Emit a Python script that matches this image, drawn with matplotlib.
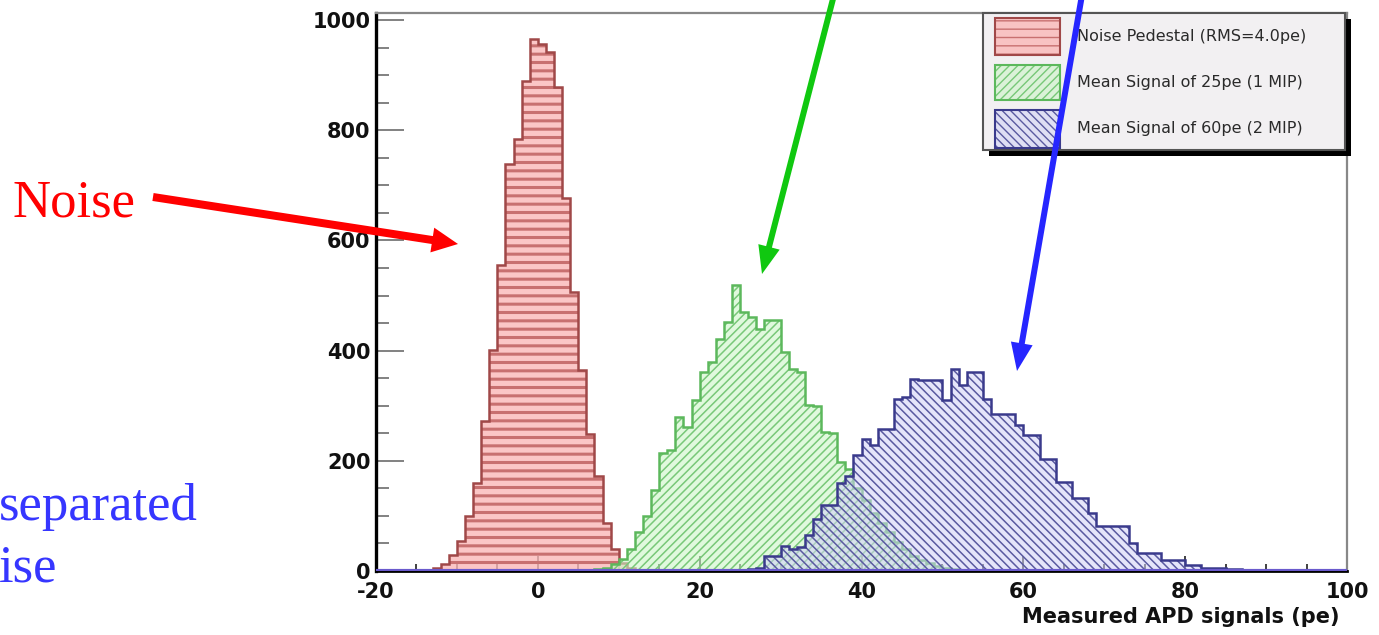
import matplotlib
matplotlib.use('Agg')
import matplotlib.pyplot as plt
import numpy as np
from matplotlib.patches import Rectangle, FancyArrow
from matplotlib.transforms import IdentityTransform
from matplotlib.ticker import MultipleLocator

plt.rcParams['axes.unicode_minus'] = False

# ---- data (1 pe bins from -20 to 100) ----
edges = np.arange(-20, 101)

noise_first = -13
noise_counts = [5, 12, 29, 55, 100, 160, 273, 401, 556, 739, 785, 890,
                965, 957, 942, 878, 677, 507, 365, 248, 173, 88, 40, 15, 5]

mip1_first = 7
mip1_counts = [3, 6, 12, 22, 40, 70, 100, 147, 215, 220, 280, 262, 310, 361,
               380, 422, 452, 520, 471, 462, 440, 455, 455, 398, 367, 361,
               301, 300, 252, 250, 197, 185, 150, 128, 105, 88, 70, 52, 40,
               28, 20, 14, 9, 5, 3]

mip2_first = 26
mip2_counts = [3, 5, 27, 27, 46, 40, 44, 66, 94, 120, 120, 160, 173, 210,
               240, 228, 257, 257, 312, 316, 349, 347, 347, 347, 310, 367,
               337, 361, 361, 312, 285, 285, 285, 265, 246, 246, 203, 203,
               161, 161, 133, 133, 105, 82, 82, 82, 82, 51, 33, 33, 33, 20,
               20, 20, 11, 11, 5, 5, 5, 4, 3, 2, 2, 1, 1]

labels = ['Noise Pedestal (RMS=4.0pe)', 'Mean Signal of 25pe (1 MIP)',
          'Mean Signal of 60pe (2 MIP)']

xticks = [-20, 0, 20, 40, 60, 80, 100]
yticks = [0, 200, 400, 600, 800, 1000]


def full(first, counts):
    arr = np.zeros(len(edges) - 1)
    i = first - edges[0]
    arr[i:i + len(counts)] = counts
    return arr


W, H = 1379, 635
fig = plt.figure(figsize=(W / 100, H / 100), dpi=100)
fig.patch.set_facecolor('white')
ax = fig.add_axes([376 / W, 1 - 571 / H, (1347 - 376) / W, (571 - 13) / H])

# histogram styles: fill, hatch colour, hatch, outline
styles = [
    ((0.98, 0.72, 0.72, 0.8), '#c87070', '--', '#a04848'),
    ((0.80, 0.96, 0.78, 0.6), '#78c878', '////', '#5cb85c'),
    ((0.82, 0.82, 0.97, 0.55), '#5a5aa0', '\\\\\\\\', '#3a3a8c'),
]
hists = [full(noise_first, noise_counts), full(mip1_first, mip1_counts),
         full(mip2_first, mip2_counts)]

for k, (vals, (fc, hc, hatch, oc)) in enumerate(zip(hists, styles)):
    p = ax.stairs(vals, edges, fill=True, facecolor=fc, edgecolor=hc,
                  hatch=hatch, linewidth=0, zorder=2 + k)
    if hasattr(p, 'set_hatch_linewidth'):
        p.set_hatch_linewidth(2.2 if k == 0 else 1.1)
    ax.stairs(vals, edges, color=oc, linewidth=1.8, zorder=2.5 + k)

# thick purple line along zero, as the outlines pile up there
ax.axhline(0, color='#6a5acd', linewidth=3, zorder=6)

ax.set_xlim(-20, 100)
ax.set_ylim(0, 1013)
ax.set_xticks(xticks)
ax.set_yticks(yticks)
ax.xaxis.set_minor_locator(MultipleLocator(5))
ax.yaxis.set_minor_locator(MultipleLocator(50))
ax.tick_params(which='both', direction='in', top=False, right=False)
ax.tick_params(axis='y', which='major', length=20, width=1.3, color='#777777', pad=4)
ax.tick_params(axis='y', which='minor', length=9, width=1.3, color='#777777')
ax.tick_params(axis='x', which='major', length=11, width=1.3, color='#333333', pad=8)
ax.tick_params(axis='x', which='minor', length=5, width=1.3, color='#333333')
for lab in ax.get_xticklabels() + ax.get_yticklabels():
    lab.set_fontsize(15)
    lab.set_fontweight('bold')
    lab.set_color('#111111')
ax.spines['left'].set_linewidth(2.4)
ax.spines['left'].set_color('black')
ax.spines['bottom'].set_linewidth(2)
ax.spines['bottom'].set_color('black')
for s in ['top', 'right']:
    ax.spines[s].set_linewidth(1.6)
    ax.spines[s].set_color('#888888')

fig.text(1340 / W, 1 - 617 / H, 'Measured APD signals (pe)', ha='right',
         va='center', fontsize=15, fontweight='bold', color='#111111')

# ---- legend box drawn in pixel coordinates ----
T = IdentityTransform()


def rect(x0, y0, x1, y1, **kw):
    return Rectangle((x0, H - y1), x1 - x0, y1 - y0, transform=T, **kw)


fig.add_artist(rect(989, 19, 1351, 156, facecolor='black', edgecolor='none', zorder=5))
fig.add_artist(rect(983, 13, 1345, 150, facecolor='#f2f0f2', edgecolor='#555555',
                    linewidth=1.5, zorder=6))
rows = [(18, 55, 37), (65, 100, 82), (110, 148, 128)]
for (y0, y1, yc), (fc, hc, hatch, oc), lab in zip(rows, styles, labels):
    fig.add_artist(rect(995, y0, 1060, y1, facecolor=fc, edgecolor=hc, hatch=hatch,
                        linewidth=0, zorder=7))
    fig.add_artist(rect(995, y0, 1060, y1, facecolor='none', edgecolor=oc,
                        linewidth=1.5, zorder=7.5))
    fig.text(1077 / W, 1 - yc / H, lab, ha='left', va='center', fontsize=11.5,
             color='#2a2a2a', zorder=8)

# ---- slide annotations ----
fig.text(13 / W, 1 - 217 / H, 'Noise', fontsize=38, family='Liberation Serif',
         color='#ff0000', va='baseline')
fig.text(-1 / W, 1 - 520 / H, 'separated', fontsize=38, family='Liberation Serif',
         color='#3636ff', va='baseline')
fig.text(-1 / W, 1 - 582 / H, 'ise', fontsize=38, family='Liberation Serif',
         color='#3636ff', va='baseline')


def arrow(x0, y0, x1, y1, color, width, hw, hl):
    fig.add_artist(FancyArrow(x0, H - y0, x1 - x0, -(y1 - y0), width=width,
                              head_width=hw, head_length=hl,
                              length_includes_head=True, transform=T,
                              color=color, linewidth=0, zorder=10))


arrow(153, 197, 458, 244, '#ff0000', 8, 25, 26)
arrow(834, -5, 762, 274, '#10c810', 6, 22, 28)
arrow(1082, -5, 1017, 371, '#2626ff', 6, 22, 28)

fig.savefig('out.png', dpi=100)
